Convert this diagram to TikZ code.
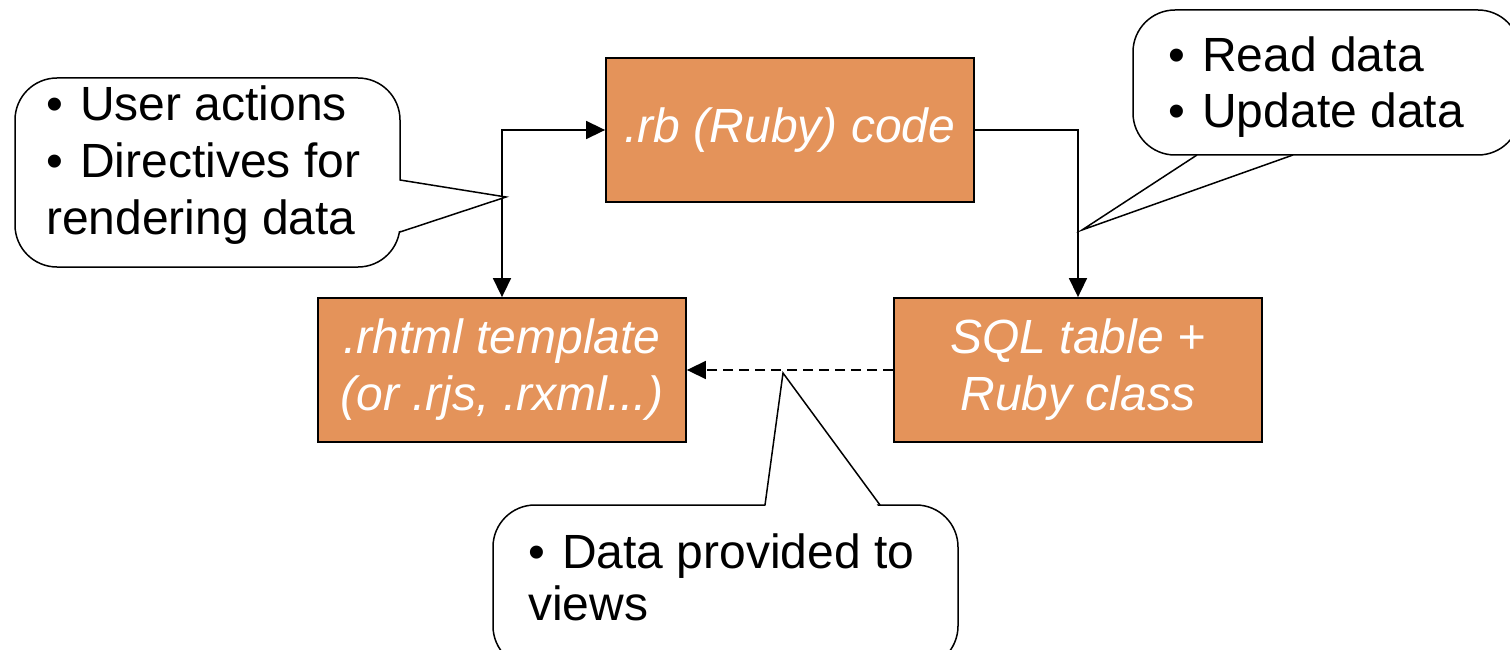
\documentclass[tikz,border=0pt]{standalone}
\usepackage{fontspec}
\setmainfont{Liberation Sans}
\usetikzlibrary{arrows.meta}
\definecolor{boxorange}{HTML}{E4935A}
\newcommand{\bulletsp}{•\hspace{0.36em}}
\begin{document}
\begin{tikzpicture}[x=1pt,y=-1pt,
  stagebox/.style={draw=black, line width=1.8pt, fill=boxorange, minimum width=368pt, minimum height=144pt, inner sep=0pt, align=center, text=white, font=\fontsize{48}{57}\selectfont\itshape},
  callbox/.style={draw=black, line width=1.5pt, fill=white, rounded corners=42pt},
  tailline/.style={draw=black, line width=1.5pt, line join=miter},
  bubtext/.style={anchor=base west, inner sep=0pt, font=\fontsize{48}{57}\selectfont},
  conn/.style={line width=1.6pt, draw=black},
  arrowhd/.style={-{Triangle[length=19pt,width=18pt]}},
  dblarrowhd/.style={{Triangle[length=19pt,width=18pt]}-{Triangle[length=19pt,width=18pt]}}
]
\useasboundingbox (0,0) rectangle (1510,650);

% boxes
\node[stagebox] (rb) at (790,130) {.rb (Ruby) code};
\node[stagebox] (rhtml) at (502,370) {.rhtml template\\(or .rjs, .rxml...)};
\node[stagebox] (sql) at (1078,370) {SQL table +\\Ruby class};

% connectors
\draw[conn, dblarrowhd] (rhtml.north) |- (rb.west);
\draw[conn, arrowhd] (rb.east) -| (sql.north);
\draw[conn, arrowhd, dash pattern=on 10pt off 6pt] (sql.west) -- (rhtml.east);

% tips of callouts
\coordinate (tipL) at (506,197);
\coordinate (tipR) at (1082,230);
\coordinate (tipB) at (783,373);

\begin{scope}
\clip (0,0) rectangle (1510,650);
% left callout
\draw[callbox] (15,78) rectangle (400,267);
\fill[white] (396,180) -- (tipL) -- (396,232) -- cycle;
\draw[tailline] (400,180) -- (tipL) -- (400,232);
% top right callout
\draw[callbox] (1133,10) rectangle (1520,155);
\fill[white] (1197,159) -- (tipR) -- (1293,159) -- cycle;
\draw[tailline] (1197,155) -- (tipR) -- (1293,155);
% bottom callout
\draw[callbox] (493,505) rectangle (958,668);
\fill[white] (765,509) -- (tipB) -- (880,509) -- cycle;
\draw[tailline] (765,505) -- (tipB) -- (880,505);
\end{scope}

% callout texts
\node[bubtext] (ua) at (46,121) {\bulletsp User actions};
\node[bubtext] (df) at (46,178) {\bulletsp Directives for};
\node[bubtext] (rd) at (46,234) {rendering data};
\node[bubtext] (rdd) at (1168,72) {\bulletsp Read data};
\node[bubtext] (upd) at (1168,128) {\bulletsp Update data};
\node[bubtext] (dp) at (528,568) {\bulletsp Data provided to};
\node[bubtext] (vw) at (528,620) {views};
\end{tikzpicture}
\end{document}
